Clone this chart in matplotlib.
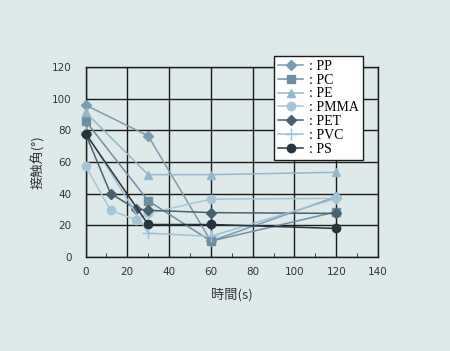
import matplotlib
matplotlib.use("Agg")
import matplotlib.pyplot as plt
from matplotlib.ticker import MultipleLocator

pp_x = [0, 30, 60, 120]
pp_y = [96, 76.5, 10, 38]
pc_x = [0, 30, 60, 120]
pc_y = [86, 35.5, 10, 28.5]
pe_x = [0, 30, 60, 120]
pe_y = [91.5, 52, 52, 53.5]
pmma_x = [0, 12, 24, 30, 60, 120]
pmma_y = [57.5, 29.5, 23.5, 27.5, 36.5, 37]
pet_x = [0, 12, 24, 30, 60, 120]
pet_y = [78, 40, 30.5, 29.5, 28, 27.5]
pvc_x = [0, 30, 60, 120]
pvc_y = [79, 15, 13, 37]
ps_x = [0, 30, 60, 120]
ps_y = [78, 20.5, 20.5, 18]

labels = ["PP", "PC", "PE", "PMMA", "PET", "PVC", "PS"]
xticks = [0, 20, 40, 60, 80, 100, 120, 140]
yticks = [0, 20, 40, 60, 80, 100, 120]

bg = "#deeaea"
fig = plt.figure(figsize=(4.5, 3.51), dpi=100, facecolor=bg)
ax = fig.add_axes([0.19, 0.268, 0.65, 0.541], facecolor=bg)

series = [
    (pp_x, pp_y, "#7b9bb0", "D", 5.5),
    (pc_x, pc_y, "#6e8ea2", "s", 5.5),
    (pe_x, pe_y, "#93b7cb", "^", 6),
    (pmma_x, pmma_y, "#a6c6d8", "o", 6),
    (pet_x, pet_y, "#48606f", "D", 5.5),
    (pvc_x, pvc_y, "#9cc0d6", "+", 9),
    (ps_x, ps_y, "#27333d", "o", 6),
]
handles = []
for (x, y, c, m, ms), lab in zip(series, labels):
    h, = ax.plot(x, y, color=c, marker=m, markersize=ms, linewidth=1.1,
                 markeredgecolor=c, markeredgewidth=1.0, label=": " + lab,
                 clip_on=False, zorder=3)
    handles.append(h)

ax.set_xlim(0, 140)
ax.set_ylim(0, 120)
ax.set_xticks(xticks)
ax.set_yticks(yticks)
ax.xaxis.set_minor_locator(MultipleLocator(10))
ax.grid(True, which="major", color="#1a1a1a", linewidth=1.0)
ax.set_axisbelow(True)
for s in ax.spines.values():
    s.set_color("#1a1a1a")
    s.set_linewidth(1.0)
ax.tick_params(axis="both", which="major", direction="in", length=0,
               labelsize=7.5, labelcolor="#333333")
ax.tick_params(axis="y", which="major", pad=10)
ax.tick_params(axis="x", which="major", pad=7)
ax.tick_params(axis="x", which="minor", direction="in", length=3, color="#1a1a1a")

ax.set_xlabel("時間(s)", family=["Noto Sans CJK JP", "DejaVu Sans"], fontsize=9.5,
              color="#333333", labelpad=8)
ax.set_ylabel("接触角(°)", family=["Noto Sans CJK JP", "DejaVu Sans"], fontsize=9.5,
              color="#333333", labelpad=5)

leg = ax.legend(handles=handles, loc="upper left", bbox_to_anchor=(0.645, 1.06),
                frameon=True, fancybox=False, edgecolor="#1a1a1a", facecolor="white",
                framealpha=1.0, prop={"family": ["Liberation Serif", "Noto Sans CJK JP"], "size": 10},
                handlelength=1.8, handletextpad=0.4, labelspacing=0.06,
                borderpad=0.3, borderaxespad=0)
leg.get_frame().set_linewidth(1.0)

fig.savefig("out.png", dpi=100, facecolor=bg)
